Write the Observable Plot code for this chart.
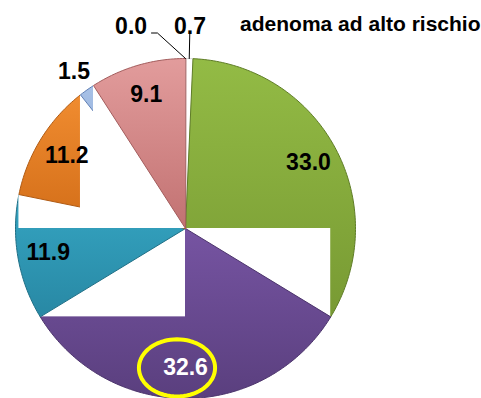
<!DOCTYPE html>
<html>
<head>
<meta charset="utf-8">
<script src="https://cdn.jsdelivr.net/npm/d3@7"></script>
<script src="https://cdn.jsdelivr.net/npm/@observablehq/plot@0.6"></script>
<style>
  html, body { margin: 0; padding: 0; background: #ffffff; }
  #chart { width: 481px; height: 398px; }
</style>
</head>
<body>
<div id="chart"></div>
<script>
// ---- data ----
const categories = ["categoria A", "categoria B", "categoria C", "categoria D", "categoria E", "categoria F", "categoria G", "categoria H"];
const values = [0.7, 33.0, 32.6, 11.9, 11.2, 1.5, 9.1, 0.0];
const valueLabels = ["0.7", "33.0", "32.6", "11.9", "11.2", "1.5", "9.1", "0.0"];
const colorsTop = ["#ffffff", "#93bb45", "#7654a2", "#35a5c2", "#f08c30", "#a8c1e6", "#e29c9c", "#ffffff"];
const colorsBottom = ["#ffffff", "#789a33", "#5a3f7e", "#2888a4", "#d26d18", "#7a9ad0", "#c27272", "#ffffff"];
const edgeColors = ["#d8d8d8", "#5f7d27", "#4c346c", "#1f6f86", "#b05a12", "#5f7fb5", "#a35c5c", "#d8d8d8"];
const titleText = "adenoma ad alto rischio";
const highlighted = "32.6";

// ---- layout ----
const W = 481, H = 398, R = 170, CX = 185, CY = 228;
const FONT = "'Liberation Sans', Arial, sans-serif";

// ---- geometry (unit radius, y up) ----
const total = d3.sum(values);
let acc = 0;
const slices = values.map((v, i) => {
  const p0 = acc; acc += v;
  return {i, v, cat: categories[i], a0: p0 / total * 2 * Math.PI, a1: acc / total * 2 * Math.PI};
});
const pt = (a, r) => [r * Math.sin(a), r * Math.cos(a)];
function poly(s) {
  const pts = [{x: 0, y: 0}];
  const n = Math.max(2, Math.ceil((s.a1 - s.a0) / (Math.PI / 180)));
  for (let k = 0; k <= n; k++) {
    const [x, y] = pt(s.a0 + (s.a1 - s.a0) * k / n, 1);
    pts.push({x, y});
  }
  return pts;
}

const marks = [];
const drawn = slices.filter(s => s.v > 0);
drawn.forEach((s, j) => {
  marks.push(Plot.line(poly(s), {
    x: "x", y: "y", curve: "linear-closed",
    fill: `url(#grad${s.i})`, stroke: edgeColors[s.i], strokeWidth: 1
  }));
  // white box artefact (as in the original rendering)
  if (j > 0 && j < drawn.length - 1) {
    const [ex, ey] = pt(s.a1, 1);
    marks.push(Plot.rect([{x1: Math.min(0, ex), x2: Math.max(0, ex), y1: Math.min(0, ey), y2: Math.max(0, ey)}],
      {x1: "x1", x2: "x2", y1: "y1", y2: "y2", fill: "white"}));
  }
});

// ---- labels ----
const labels = [];
slices.forEach(s => {
  const mid = (s.a0 + s.a1) / 2;
  const leader = s.v < 1;
  const small = s.v < 2;
  const r = leader ? 1.19 : small ? 1.13 : 0.82;
  let [x, y] = pt(mid, r);
  if (leader && labels.some(l => l.leader && Math.abs(l.x - x) < 0.2)) x -= 0.32;
  const dark = d3.lab(colorsTop[s.i]).l < 50 && !small;
  labels.push({x, y, mid, leader, text: valueLabels[s.i], color: dark ? "white" : "black"});
});

// leader lines
labels.filter(l => l.leader).forEach(l => {
  const [ax, ay] = pt(l.mid, 1);
  const [lx, ly] = pt(l.mid, 1.15);
  let pts;
  if (Math.abs(lx - l.x) < 0.05) {
    pts = [{x: ax, y: ay}, {x: lx, y: ly}];
  } else {
    pts = [{x: l.x + 0.12, y: l.y - 0.04}, {x: l.x + 0.155, y: l.y - 0.04}, {x: ax, y: ay}];
  }
  marks.push(Plot.line(pts, {x: "x", y: "y", stroke: "black", strokeWidth: 1}));
});

marks.push(Plot.text(labels, {
  x: "x", y: "y", text: "text", fill: "color",
  fontSize: 23, fontWeight: "bold", fontFamily: FONT
}));

// highlight ellipse
const hl = labels.find(l => l.text === highlighted);
const ell = d3.range(0, 73).map(k => {
  const t = k / 72 * 2 * Math.PI;
  return {x: hl.x - 0.05 + 0.224 * Math.cos(t), y: hl.y + 0.168 * Math.sin(t)};
});
marks.push(Plot.line(ell, {x: "x", y: "y", stroke: "#ffff00", strokeWidth: 4, curve: "linear-closed"}));

// title
marks.push(Plot.text([titleText], {
  text: d => d, frameAnchor: "top-right", textAnchor: "end", dx: -1, dy: 16,
  fontSize: 21, fontWeight: "bold", fontFamily: FONT, fill: "black"
}));

const svg = Plot.plot({
  width: W, height: H,
  margin: 0,
  x: {domain: [-CX / R, (W - CX) / R], axis: null},
  y: {domain: [-(H - CY) / R, CY / R], axis: null},
  style: {background: "white", fontFamily: FONT, overflow: "visible"},
  marks
});

// gradients
const ns = "http://www.w3.org/2000/svg";
const defs = document.createElementNS(ns, "defs");
slices.forEach(s => {
  const g = document.createElementNS(ns, "linearGradient");
  g.setAttribute("id", `grad${s.i}`);
  g.setAttribute("x1", "0"); g.setAttribute("y1", "0");
  g.setAttribute("x2", "0"); g.setAttribute("y2", "1");
  [[0, colorsTop[s.i]], [1, colorsBottom[s.i]]].forEach(([o, c]) => {
    const st = document.createElementNS(ns, "stop");
    st.setAttribute("offset", o);
    st.setAttribute("stop-color", c);
    g.appendChild(st);
  });
  defs.appendChild(g);
});
svg.insertBefore(defs, svg.firstChild);

document.getElementById("chart").appendChild(svg);
</script>
</body>
</html>
